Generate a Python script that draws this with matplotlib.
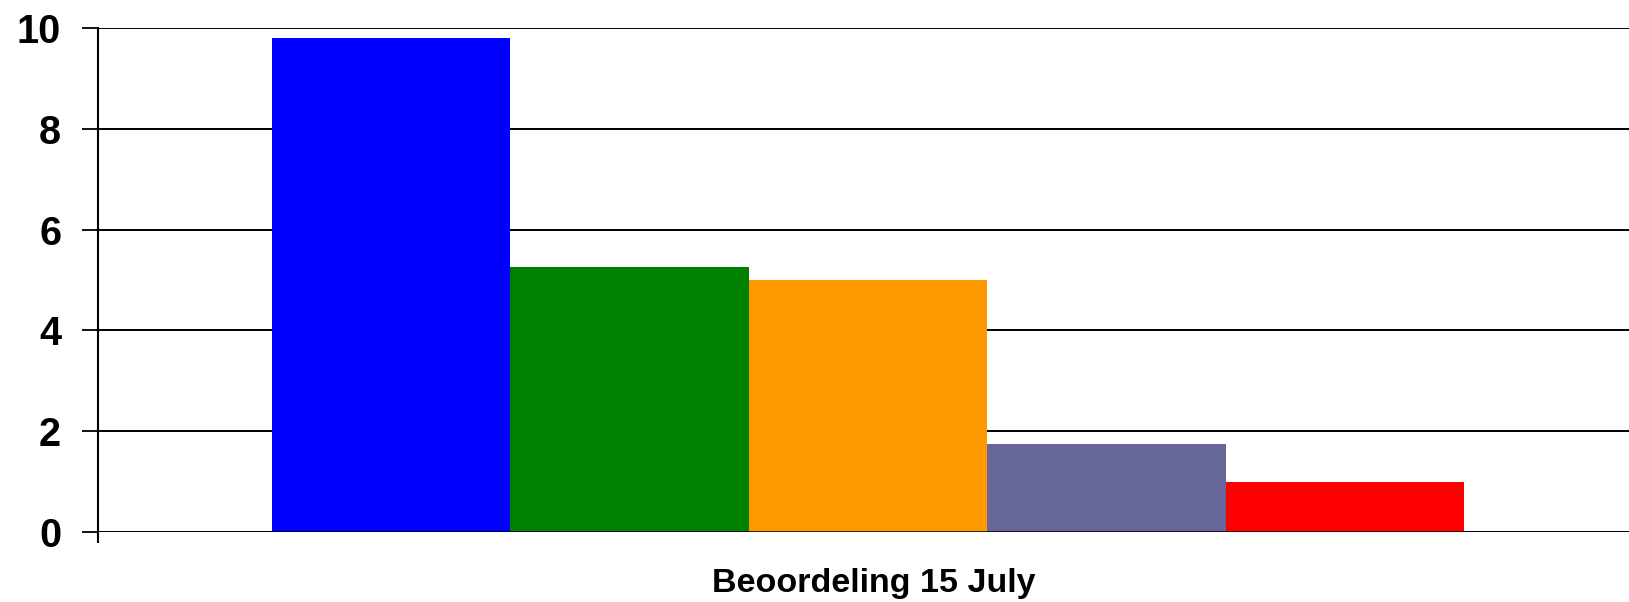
import matplotlib
matplotlib.use("Agg")
import matplotlib.pyplot as plt
import numpy as np

# Data
category = "Beoordeling 15 July"
series_names = ["S1", "S2", "S3", "S4", "S5"]
values = [9.81, 5.26, 5.0, 1.75, 1.0]
colors = ["#0000FF", "#008000", "#FF9900", "#666699", "#FF0000"]
y_ticks = [0, 2, 4, 6, 8, 10]

plt.rcParams['font.family'] = ['Liberation Sans', 'DejaVu Sans']
plt.rcParams['font.weight'] = 'bold'

fig = plt.figure(figsize=(16.29, 6.02), dpi=100)
ax = fig.add_axes([98/1629, 70/602, 1540/1629, 504/602])

n = len(values)
bw = 0.1548
offsets = (np.arange(n) - (n - 1) / 2) * bw
for off, v, c in zip(offsets, values, colors):
    ax.bar(off, v, width=bw, color=c, edgecolor='none', zorder=3)

ax.set_xlim(-0.5, 0.5)
ax.set_ylim(0, 10)
ax.set_yticks(y_ticks)
ax.set_yticklabels([str(t) for t in y_ticks], fontsize=28.5, fontweight='bold')
ax.yaxis.grid(True, color='black', linewidth=1.4, zorder=1)
ax.set_axisbelow(True)

for s in ['top', 'right', 'bottom']:
    ax.spines[s].set_visible(False)
ax.spines['left'].set_linewidth(1.5)
ax.axhline(0, color='black', linewidth=1.8, zorder=4)

ax.tick_params(axis='y', length=11.5, width=1.3, pad=15)
ax.set_xticks([-0.5, 0.5])
ax.set_xticklabels(['', ''])
ax.tick_params(axis='x', length=8, width=1.5, direction='out')

ax.text(0.004, (532 - 592) / 504, category, transform=ax.get_xaxis_transform(),
        ha='center', va='baseline', fontsize=24.5, fontweight='bold')

fig.savefig("out.png", dpi=100)
